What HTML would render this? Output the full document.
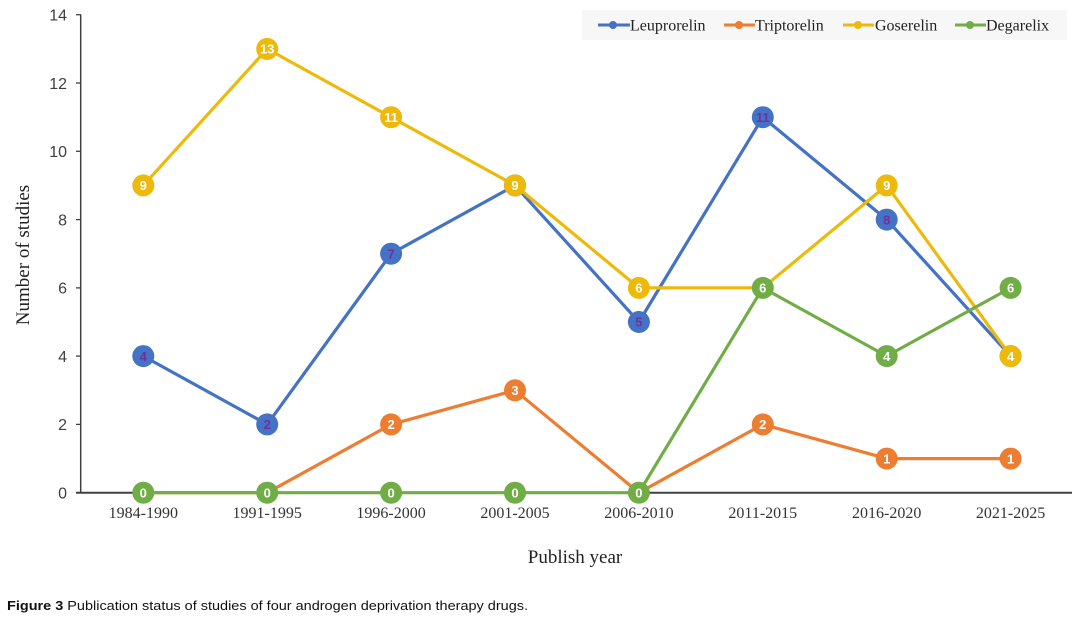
<!DOCTYPE html>
<html><head><meta charset="utf-8"><style>
html,body{margin:0;padding:0;background:#fff;}
svg{display:block;}
</style></head><body>
<svg width="1080" height="627" viewBox="0 0 1080 627" xmlns="http://www.w3.org/2000/svg">
<rect width="1080" height="627" fill="#fff"/>
<!-- legend box -->
<rect x="582" y="10" width="485" height="30" fill="#f7f7f7"/>
<!-- axes -->
<line x1="80.7" y1="14.7" x2="80.7" y2="493" stroke="#404040" stroke-width="1.5"/>
<line x1="76" y1="492.7" x2="1072" y2="492.7" stroke="#404040" stroke-width="2"/>
<g stroke="#404040" stroke-width="1.3">
<line x1="76" y1="14.7" x2="81" y2="14.7"/>
<line x1="76" y1="83.0" x2="81" y2="83.0"/>
<line x1="76" y1="151.3" x2="81" y2="151.3"/>
<line x1="76" y1="219.6" x2="81" y2="219.6"/>
<line x1="76" y1="287.9" x2="81" y2="287.9"/>
<line x1="76" y1="356.1" x2="81" y2="356.1"/>
<line x1="76" y1="424.4" x2="81" y2="424.4"/>
</g>
<g font-family="Liberation Sans, sans-serif" font-size="16" fill="#404040" text-anchor="end">
<text x="67" y="20.5">14</text>
<text x="67" y="88.8">12</text>
<text x="67" y="157.1">10</text>
<text x="67" y="225.4">8</text>
<text x="67" y="293.7">6</text>
<text x="67" y="361.9">4</text>
<text x="67" y="430.2">2</text>
<text x="67" y="498.5">0</text>
</g>
<g font-family="Liberation Serif, serif" font-size="16" fill="#333" text-anchor="middle">
<text x="143.3" y="518">1984-1990</text>
<text x="267.2" y="518">1991-1995</text>
<text x="391.1" y="518">1996-2000</text>
<text x="515.0" y="518">2001-2005</text>
<text x="638.9" y="518">2006-2010</text>
<text x="762.8" y="518">2011-2015</text>
<text x="886.7" y="518">2016-2020</text>
<text x="1010.6" y="518">2021-2025</text>
</g>
<text x="575" y="563" font-family="Liberation Serif, serif" font-size="19" fill="#222" text-anchor="middle">Publish year</text>
<text transform="translate(29,255) rotate(-90)" font-family="Liberation Serif, serif" font-size="19" fill="#222" text-anchor="middle">Number of studies</text>

<!-- lines -->
<g fill="none" stroke-width="3.2" stroke-linejoin="round">
<polyline stroke="#4472C4" points="143.3,356.1 267.2,424.4 391.1,253.7 515.0,185.4 638.9,322.0 762.8,117.2 886.7,219.6 1010.6,356.1"/>
<polyline stroke="#ED7D31" points="143.3,492.7 267.2,492.7 391.1,424.4 515.0,390.3 638.9,492.7 762.8,424.4 886.7,458.6 1010.6,458.6"/>
<polyline stroke="#EDB90A" points="143.3,185.4 267.2,48.9 391.1,117.2 515.0,185.4 638.9,287.9 762.8,287.9 886.7,185.4 1010.6,356.1"/>
<polyline stroke="#70AD47" points="143.3,492.7 267.2,492.7 391.1,492.7 515.0,492.7 638.9,492.7 762.8,287.9 886.7,356.1 1010.6,287.9"/>
</g>
<!-- markers -->
<g fill="#4472C4">
<circle cx="143.3" cy="356.1" r="11"/><circle cx="267.2" cy="424.4" r="11"/><circle cx="391.1" cy="253.7" r="11"/><circle cx="515.0" cy="185.4" r="11"/><circle cx="638.9" cy="322.0" r="11"/><circle cx="762.8" cy="117.2" r="11"/><circle cx="886.7" cy="219.6" r="11"/><circle cx="1010.6" cy="356.1" r="11"/>
</g>
<g font-family="Liberation Sans, sans-serif" font-size="13" font-weight="bold" fill="#7030A0" text-anchor="middle">
<text x="143.3" y="360.8">4</text><text x="267.2" y="429.1">2</text><text x="391.1" y="258.4">7</text><text x="638.9" y="326.7">5</text><text x="762.8" y="121.9">11</text><text x="886.7" y="224.3">8</text>
</g>
<g fill="#ED7D31">
<circle cx="391.1" cy="424.4" r="11"/><circle cx="515.0" cy="390.3" r="11"/><circle cx="762.8" cy="424.4" r="11"/><circle cx="886.7" cy="458.6" r="11"/><circle cx="1010.6" cy="458.6" r="11"/>
</g>
<g font-family="Liberation Sans, sans-serif" font-size="13" font-weight="bold" fill="#fff" text-anchor="middle">
<text x="391.1" y="429.1">2</text><text x="515.0" y="395.0">3</text><text x="762.8" y="429.1">2</text><text x="886.7" y="463.3">1</text><text x="1010.6" y="463.3">1</text>
</g>
<g fill="#EDB90A">
<circle cx="143.3" cy="185.4" r="11"/><circle cx="267.2" cy="48.9" r="11"/><circle cx="391.1" cy="117.2" r="11"/><circle cx="515.0" cy="185.4" r="11"/><circle cx="638.9" cy="287.9" r="11"/><circle cx="886.7" cy="185.4" r="11"/><circle cx="1010.6" cy="356.1" r="11"/>
</g>
<g font-family="Liberation Sans, sans-serif" font-size="13" font-weight="bold" fill="#fff" text-anchor="middle">
<text x="143.3" y="190.1">9</text><text x="267.2" y="53.6">13</text><text x="391.1" y="121.9">11</text><text x="515.0" y="190.1">9</text><text x="638.9" y="292.6">6</text><text x="886.7" y="190.1">9</text><text x="1010.6" y="360.8">4</text>
</g>
<g fill="#70AD47">
<circle cx="143.3" cy="492.7" r="11"/><circle cx="267.2" cy="492.7" r="11"/><circle cx="391.1" cy="492.7" r="11"/><circle cx="515.0" cy="492.7" r="11"/><circle cx="638.9" cy="492.7" r="11"/><circle cx="762.8" cy="287.9" r="11"/><circle cx="886.7" cy="356.1" r="11"/><circle cx="1010.6" cy="287.9" r="11"/>
</g>
<g font-family="Liberation Sans, sans-serif" font-size="13" font-weight="bold" fill="#fff" text-anchor="middle">
<text x="143.3" y="497.4">0</text><text x="267.2" y="497.4">0</text><text x="391.1" y="497.4">0</text><text x="515.0" y="497.4">0</text><text x="638.9" y="497.4">0</text><text x="762.8" y="292.6">6</text><text x="886.7" y="360.8">4</text><text x="1010.6" y="292.6">6</text>
</g>

<!-- legend -->
<g stroke-width="3">
<line x1="598" y1="25" x2="630" y2="25" stroke="#4472C4"/>
<line x1="724" y1="25" x2="755" y2="25" stroke="#ED7D31"/>
<line x1="843" y1="25" x2="874" y2="25" stroke="#EDB90A"/>
<line x1="955" y1="25" x2="986" y2="25" stroke="#70AD47"/>
</g>
<circle cx="613" cy="25" r="4" fill="#4472C4"/>
<circle cx="739" cy="25" r="4" fill="#ED7D31"/>
<circle cx="858" cy="25" r="4" fill="#EDB90A"/>
<circle cx="970" cy="25" r="4" fill="#70AD47"/>
<g font-family="Liberation Serif, serif" font-size="16" fill="#222">
<text x="630" y="30.5">Leuprorelin</text>
<text x="755" y="30.5">Triptorelin</text>
<text x="875" y="30.5">Goserelin</text>
<text x="986" y="30.5">Degarelix</text>
</g>

<!-- caption -->
<text x="7" y="610" font-family="Liberation Sans, sans-serif" font-size="13" fill="#111" textLength="521" lengthAdjust="spacingAndGlyphs"><tspan font-weight="bold">Figure 3</tspan> Publication status of studies of four androgen deprivation therapy drugs.</text>
</svg>
</body></html>
